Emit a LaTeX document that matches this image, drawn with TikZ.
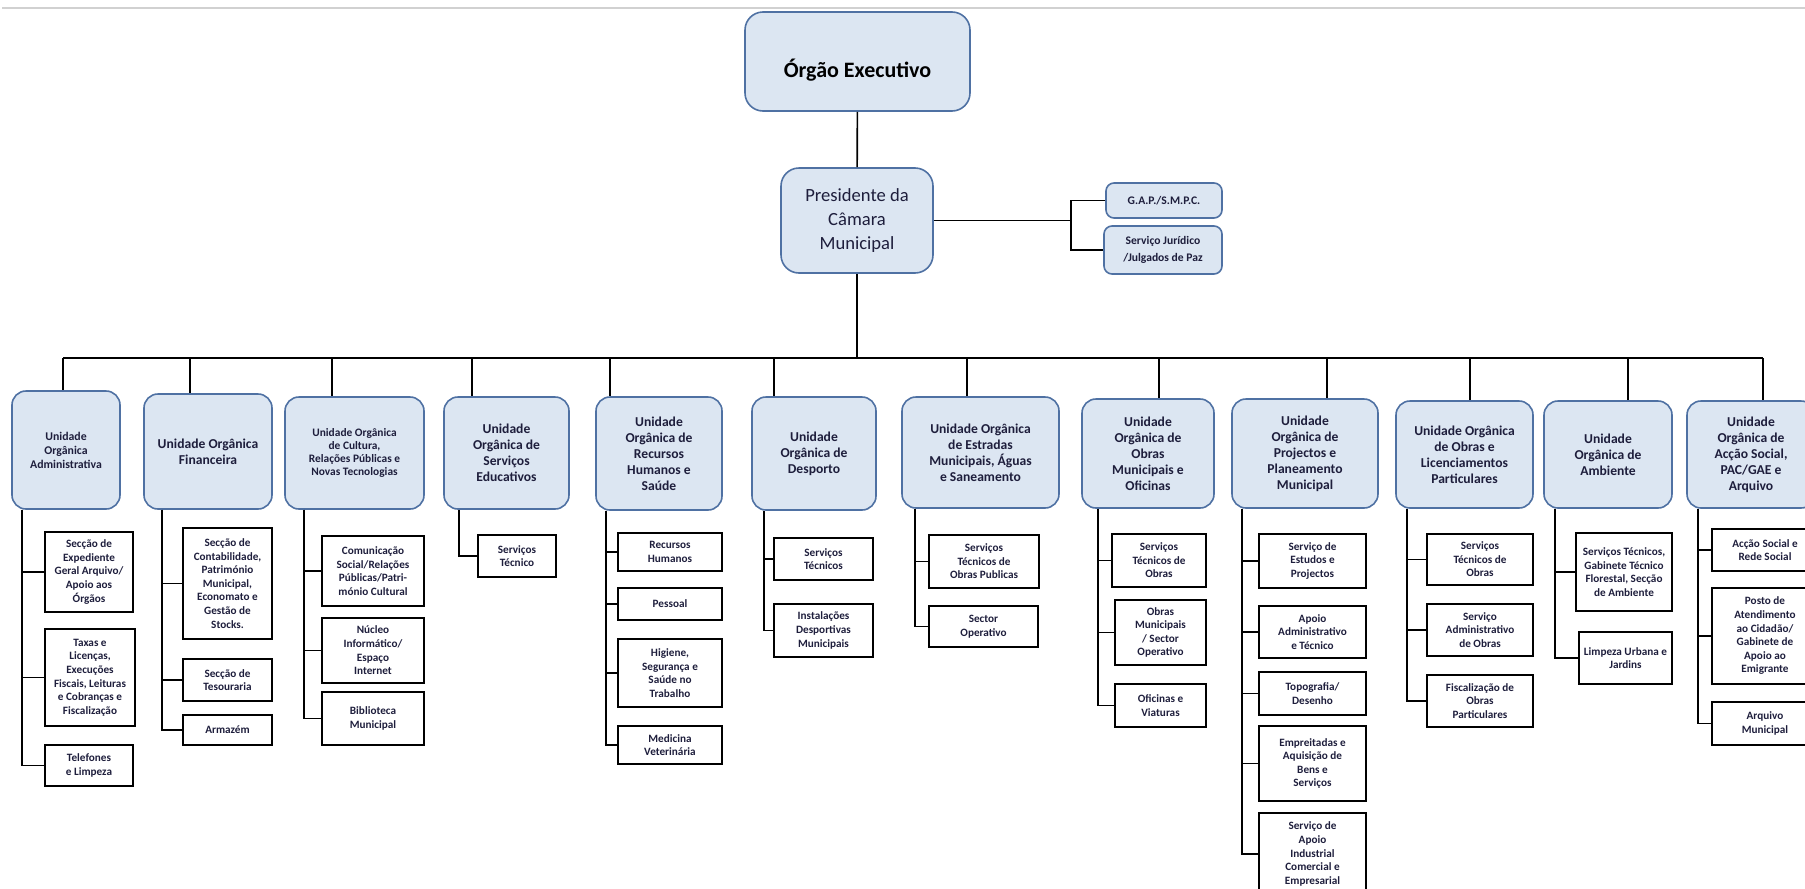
\documentclass[tikz,border=0pt]{standalone}
\usepackage{fontspec}
\setmainfont{Carlito}
\definecolor{boxfill}{HTML}{DCE6F2}
\definecolor{boxline}{HTML}{4F71A3}
\definecolor{ink}{HTML}{1E1E3C}
\tikzset{
  wh/.style 2 args={minimum width=#1*.5pt, minimum height=#2*.5pt},
  orgbox/.style={draw=boxline, fill=boxfill, line width=.8pt, rounded corners=7pt,
    align=center, inner sep=0pt, text=ink, font=\fontsize{6.8pt}{8pt}\selectfont\bfseries},
  sidebox/.style={orgbox, rounded corners=4pt, font=\fontsize{5.8pt}{8.3pt}\selectfont\bfseries},
  secbox/.style={draw=black, line width=.8pt, align=center, inner sep=0pt,
    text=ink, font=\fontsize{5.6pt}{6.8pt}\selectfont\bfseries},
  link/.style={draw=black, line width=.8pt}
}

\begin{document}
\begin{tikzpicture}[x=.5pt,y=-.5pt]
  \useasboundingbox (0,0) rectangle (1805,889);
  \draw[black!18,line width=1pt] (2,8) -- (1805,8);

  % top of the chart
  \node[orgbox,wh={225}{99},rounded corners=9pt,text=black,text height=15.5pt,text depth=0pt,
        font=\fontsize{11pt}{13pt}\selectfont\bfseries] (oe) at (857.5,61.5) {Órgão Executivo};
  \node[orgbox,wh={152}{105},rounded corners=9pt,
        font=\fontsize{9.3pt}{12pt}\selectfont] (pcm) at (857,220.5) {Presidente da\\Câmara\\Municipal};
  \node[sidebox,wh={116}{35}] (gap) at (1164,200.5) {G.A.P./S.M.P.C.};
  \node[sidebox,wh={118}{48}] (sj)  at (1163,250)   {Serviço Jurídico\\/Julgados de Paz};

  % organic units
  \node[orgbox,wh={108}{118},font=\fontsize{5.9pt}{7pt}\selectfont\bfseries] (u1) at (66,450) {Unidade\\Orgânica\\Administrativa};
  \node[orgbox,wh={128}{115}] (u2) at (208,451.5) {Unidade Orgânica\\Financeira};
  \node[orgbox,wh={139}{112},font=\fontsize{5.7pt}{6.6pt}\selectfont\bfseries] (u3) at (354.5,453) {Unidade Orgânica\\de Cultura,\\Relações Públicas e\\Novas Tecnologias};
  \node[orgbox,wh={125}{112}] (u4) at (506.5,453) {Unidade\\Orgânica de\\Serviços\\Educativos};
  \node[orgbox,wh={126}{113}] (u5) at (659,453.5) {Unidade\\Orgânica de\\Recursos\\Humanos e\\Saúde};
  \node[orgbox,wh={124}{113}] (u6) at (814,453.5) {Unidade\\Orgânica de\\Desporto};
  \node[orgbox,wh={157}{111}] (u7) at (980.5,452.5) {Unidade Orgânica\\de Estradas\\Municipais, Águas\\e Saneamento};
  \node[orgbox,wh={132}{109}] (u8) at (1148,453.5) {Unidade\\Orgânica de\\Obras\\Municipais e\\Oficinas};
  \node[orgbox,wh={146}{109}] (u9) at (1305,453.5) {Unidade\\Orgânica de\\Projectos e\\Planeamento\\Municipal};
  \node[orgbox,wh={137}{107}] (u10) at (1464.5,454.5) {Unidade Orgânica\\de Obras e\\Licenciamentos\\Particulares};
  \node[orgbox,wh={128}{107}] (u11) at (1608,454.5) {Unidade\\Orgânica de\\Ambiente};
  \node[orgbox,wh={128}{107}] (u12) at (1751,454.5) {Unidade\\Orgânica de\\Acção Social,\\PAC/GAE e\\Arquivo};

  % sections
  \node[secbox,wh={88}{80}]  (u1a) at (89,572)    {Secção de\\Expediente\\Geral Arquivo/\\Apoio aos\\Órgãos};
  \node[secbox,wh={90}{97}]  (u1b) at (90,677.5)  {Taxas e\\Licenças,\\Execuções\\Fiscais, Leituras\\e Cobranças e\\Fiscalização};
  \node[secbox,wh={88}{41}]  (u1c) at (89,765.5)  {Telefones\\e Limpeza};
  \node[secbox,wh={89}{111}] (u2a) at (227.5,583.5) {Secção de\\Contabilidade,\\Património\\Municipal,\\Economato e\\Gestão de\\Stocks.};
  \node[secbox,wh={89}{42}]  (u2b) at (227.5,680) {Secção de\\Tesouraria};
  \node[secbox,wh={89}{30}]  (u2c) at (227.5,730) {Armazém};
  \node[secbox,wh={102}{70}] (u3a) at (373,571)   {Comunicação\\Social/Relações\\Públicas/Patri-\\mónio Cultural};
  \node[secbox,wh={102}{65}] (u3b) at (373,650.5) {Núcleo\\Informático/\\Espaço\\Internet};
  \node[secbox,wh={102}{53}] (u3c) at (373,718.5) {Biblioteca\\Municipal};
  \node[secbox,wh={78}{42}]  (u4a) at (517,556)   {Serviços\\Técnico};
  \node[secbox,wh={104}{38}] (u5a) at (670,552)   {Recursos\\Humanos};
  \node[secbox,wh={104}{32}] (u5b) at (670,604)   {Pessoal};
  \node[secbox,wh={104}{68}] (u5c) at (670,673)   {Higiene,\\Segurança e\\Saúde no\\Trabalho};
  \node[secbox,wh={104}{38}] (u5d) at (670,745)   {Medicina\\Veterinária};
  \node[secbox,wh={99}{42}]  (u6a) at (823.5,559) {Serviços\\Técnicos};
  \node[secbox,wh={99}{53}]  (u6b) at (823.5,630.5) {Instalações\\Desportivas\\Municipais};
  \node[secbox,wh={110}{53}] (u7a) at (984,561.5) {Serviços\\Técnicos de\\Obras Publicas};
  \node[secbox,wh={109}{41}] (u7b) at (983.5,626.5) {Sector\\Operativo};
  \node[secbox,wh={94}{53}]  (u8a) at (1159,560.5) {Serviços\\Técnicos de\\Obras};
  \node[secbox,wh={91}{65}]  (u8b) at (1160.5,632.5) {Obras\\Municipais\\/ Sector\\Operativo};
  \node[secbox,wh={91}{43}]  (u8c) at (1160.5,705.5) {Oficinas e\\Viaturas};
  \node[secbox,wh={107}{54}] (u9a) at (1312.5,561) {Serviço de\\Estudos e\\Projectos};
  \node[secbox,wh={107}{52}] (u9b) at (1312.5,632) {Apoio\\Administrativo\\e Técnico};
  \node[secbox,wh={107}{43}] (u9c) at (1312.5,693.5) {Topografia/\\Desenho};
  \node[secbox,wh={107}{75}] (u9d) at (1312.5,763.5) {Empreitadas e\\Aquisição de\\Bens e\\Serviços};
  \node[secbox,wh={107}{82}] (u9e) at (1312.5,854) {Serviço de\\Apoio\\Industrial\\Comercial e\\Empresarial};
  \node[secbox,wh={106}{51}] (u10a) at (1480,559.5) {Serviços\\Técnicos de\\Obras};
  \node[secbox,wh={106}{52}] (u10b) at (1480,630) {Serviço\\Administrativo\\de Obras};
  \node[secbox,wh={106}{52}] (u10c) at (1480,701) {Fiscalização de\\Obras\\Particulares};
  \node[secbox,wh={96}{78}]  (u11a) at (1624,572) {Serviços Técnicos,\\Gabinete Técnico\\Florestal, Secção\\de Ambiente};
  \node[secbox,wh={93}{52}]  (u11b) at (1625.5,658) {Limpeza Urbana e\\Jardins};
  \node[secbox,wh={106}{42}] (u12a) at (1765,550) {Acção Social e\\Rede Social};
  \node[secbox,wh={106}{96}] (u12b) at (1765,636) {Posto de\\Atendimento\\ao Cidadão/\\Gabinete de\\Apoio ao\\Emigrante};
  \node[secbox,wh={106}{43}] (u12c) at (1765,723.5) {Arquivo\\Municipal};

  % connectors
  \draw[link] (oe) -- (pcm);
  \draw[link] (pcm.east) -- ++(137,0) coordinate (sbr);
  \draw[link] (gap.west) -| (sbr) |- (sj.west);

  \foreach \u/\bx in {u1/63,u2/190,u3/332,u4/472,u5/610,u6/774,u7/967,
                      u8/1159,u9/1327,u10/1470,u11/1628,u12/1763}{
    \coordinate (b\u) at (\bx,358);
    \draw[link] (b\u) -- (b\u |- \u.north);
  }
  \draw[link] (bu1) -- (bu12);
  \draw[link] (pcm) -- (pcm |- bu1);

  \foreach \u/\dx/\kids in {u1/11/{a,b,c},u2/19/{a,b,c},u3/20/{a,b,c},u4/16/{a},
      u5/11/{a,b,c,d},u6/13/{a,b},u7/14/{a,b},u8/17/{a,b,c},u9/11/{a,b,c,d,e},
      u10/12/{a,b,c},u11/12/{a,b},u12/12/{a,b,c}}{
    \path (\u.south west) ++(\dx,0) coordinate (sp\u);
    \foreach \k in \kids \draw[link] (sp\u) |- (\u\k.west);
  }
\end{tikzpicture}
\end{document}
